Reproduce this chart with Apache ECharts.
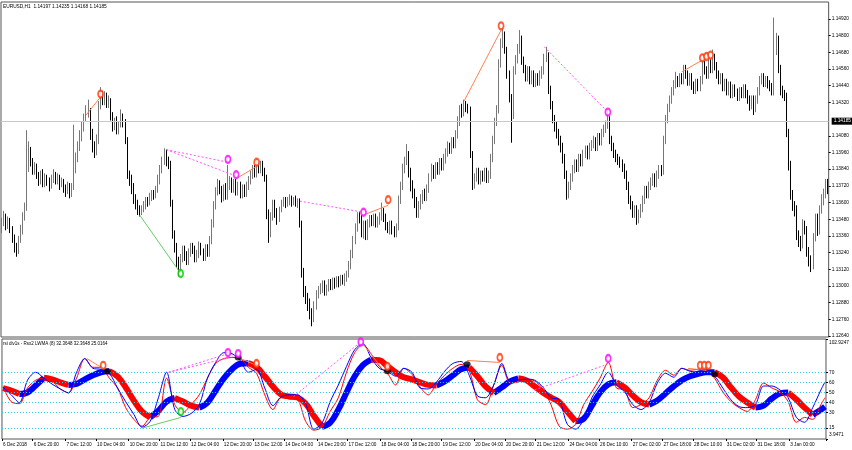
<!DOCTYPE html>
<html><head><meta charset="utf-8">
<script src="https://cdn.jsdelivr.net/npm/echarts@6/dist/echarts.min.js"></script>
<style>html,body{margin:0;padding:0;background:#fff}#c{width:852px;height:450px}</style>
</head><body><div id="c"></div>
<script>
const symbolTitle = 'EURUSD,H1  1.14197 1.14235 1.14168 1.14185';
const indicatorTitle = 'rsi div1s - Rsx2 LWMA (8) 32.3648 32.3648 25.0164';
const bidPrice = 1.14185;
const timeLabels = ['6 Dec 2018','6 Dec 20:00','7 Dec 12:00','10 Dec 04:00','10 Dec 20:00','11 Dec 12:00','12 Dec 04:00','12 Dec 20:00','13 Dec 12:00','14 Dec 04:00','14 Dec 20:00','17 Dec 12:00','18 Dec 04:00','18 Dec 20:00','19 Dec 12:00','20 Dec 04:00','20 Dec 20:00','21 Dec 12:00','24 Dec 04:00','26 Dec 10:00','27 Dec 02:00','27 Dec 18:00','28 Dec 10:00','31 Dec 02:00','31 Dec 18:00','3 Jan 00:00'];
const timeLabelBars = [0,15,31,46,62,77,92,108,123,138,154,169,185,200,215,231,246,261,277,292,308,323,338,354,369,385];
const priceTicks = [1.1264,1.1276,1.1288,1.1300,1.1312,1.1324,1.1336,1.1348,1.1360,1.1372,1.1384,1.1396,1.1408,1.1432,1.1444,1.1456,1.1468,1.1480,1.1492];
const indTicks = [3.9471,15,30,40,50,60,70,102.9247];
const levels = [70,60,50,40,30,15];

const closes = [1.1345,1.1350,1.1343,1.1347,1.1340,1.1334,1.1328,1.1326,1.1333,1.1340,
1.1350,1.1356,1.1385,1.1398,1.1390,1.1383,1.1386,1.1379,1.1376,1.1380,
1.1374,1.1378,1.1375,1.1372,1.1377,1.1380,1.1376,1.1378,1.1373,1.1375,
1.1370,1.1368,1.1372,1.1366,1.1371,1.1384,1.1392,1.1400,1.1408,1.1414,
1.1421,1.1425,1.1427,1.1410,1.1400,1.1396,1.1405,1.1430,1.1438,1.1434,
1.1436,1.1431,1.1434,1.1422,1.1415,1.1418,1.1412,1.1416,1.1421,1.1418,
1.1405,1.1380,1.1376,1.1370,1.1362,1.1358,1.1354,1.1353,1.1356,1.1358,
1.1361,1.1360,1.1364,1.1366,1.1365,1.1369,1.1376,1.1384,1.1390,1.1396,
1.1390,1.1388,1.1360,1.1337,1.1328,1.1318,1.1312,1.1320,1.1326,1.1322,
1.1318,1.1324,1.1328,1.1326,1.1320,1.1323,1.1329,1.1325,1.1321,1.1327,
1.1324,1.1333,1.1345,1.1358,1.1368,1.1373,1.1369,1.1364,1.1370,1.1366,
1.1372,1.1376,1.1370,1.1374,1.1368,1.1372,1.1366,1.1370,1.1367,1.1372,
1.1376,1.1380,1.1384,1.1381,1.1387,1.1384,1.1387,1.1382,1.1378,1.1352,
1.1338,1.1350,1.1358,1.1352,1.1348,1.1355,1.1360,1.1362,1.1359,1.1361,
1.1363,1.1360,1.1362,1.1359,1.1361,1.1345,1.1310,1.1297,1.1292,1.1288,
1.1280,1.1276,1.1286,1.1294,1.1297,1.1298,1.1300,1.1296,1.1299,1.1302,
1.1300,1.1303,1.1301,1.1304,1.1302,1.1305,1.1303,1.1306,1.1308,1.1315,
1.1323,1.1333,1.1342,1.1350,1.1348,1.1338,1.1344,1.1336,1.1345,1.1348,
1.1346,1.1349,1.1345,1.1347,1.1350,1.1352,1.1349,1.1343,1.1340,1.1344,
1.1340,1.1338,1.1342,1.1362,1.1372,1.1384,1.1390,1.1395,1.1382,1.1372,
1.1366,1.1360,1.1352,1.1358,1.1362,1.1366,1.1364,1.1370,1.1378,1.1384,
1.1380,1.1386,1.1383,1.1389,1.1386,1.1391,1.1396,1.1400,1.1398,1.1404,
1.1402,1.1409,1.1418,1.1427,1.1425,1.1430,1.1428,1.1427,1.1395,1.1374,
1.1378,1.1382,1.1376,1.1380,1.1378,1.1382,1.1377,1.1380,1.1392,1.1405,
1.1418,1.1427,1.1460,1.1474,1.1481,1.1470,1.1452,1.1435,1.1423,1.1455,
1.1463,1.1470,1.1478,1.1462,1.1456,1.1450,1.1455,1.1448,1.1452,1.1446,
1.1450,1.1447,1.1452,1.1455,1.1464,1.1466,1.1441,1.1430,1.1420,1.1415,
1.1410,1.1405,1.1400,1.1392,1.1380,1.1366,1.1372,1.1378,1.1384,1.1388,
1.1385,1.1392,1.1389,1.1395,1.1398,1.1394,1.1400,1.1402,1.1405,1.1400,
1.1407,1.1404,1.1410,1.1413,1.1416,1.1420,1.1405,1.1400,1.1395,1.1392,
1.1390,1.1388,1.1385,1.1380,1.1372,1.1362,1.1358,1.1352,1.1355,1.1348,
1.1352,1.1356,1.1362,1.1369,1.1366,1.1372,1.1375,1.1378,1.1374,1.1380,
1.1384,1.1382,1.1405,1.1420,1.1428,1.1434,1.1440,1.1445,1.1448,1.1446,
1.1450,1.1448,1.1456,1.1452,1.1447,1.1450,1.1444,1.1441,1.1446,1.1443,
1.1448,1.1459,1.1455,1.1452,1.1460,1.1456,1.1464,1.1458,1.1452,1.1448,
1.1450,1.1443,1.1446,1.1440,1.1444,1.1438,1.1442,1.1439,1.1436,1.1440,
1.1438,1.1442,1.1438,1.1434,1.1430,1.1434,1.1428,1.1434,1.1440,1.1448,
1.1450,1.1446,1.1448,1.1445,1.1443,1.1440,1.1470,1.1477,1.1456,1.1441,
1.1438,1.1436,1.1410,1.1387,1.1366,1.1358,1.1355,1.1337,1.1333,1.1330,
1.1344,1.1340,1.1325,1.1318,1.1315,1.1335,1.1349,1.1340,1.1355,1.1362,
1.1366,1.1373,1.1370];

const opens = [1.1342,1.1345,1.1350,1.1343,1.1347,1.1340,1.1334,1.1328,1.1326,1.1333,
1.1340,1.1350,1.1356,1.1385,1.1398,1.1390,1.1383,1.1386,1.1379,1.1376,
1.1380,1.1374,1.1378,1.1375,1.1372,1.1377,1.1380,1.1376,1.1378,1.1373,
1.1375,1.1370,1.1368,1.1372,1.1366,1.1371,1.1384,1.1392,1.1400,1.1408,
1.1414,1.1421,1.1425,1.1427,1.1410,1.1400,1.1396,1.1405,1.1430,1.1438,
1.1434,1.1436,1.1431,1.1434,1.1422,1.1415,1.1418,1.1412,1.1416,1.1421,
1.1418,1.1405,1.1380,1.1376,1.1370,1.1362,1.1358,1.1354,1.1353,1.1356,
1.1358,1.1361,1.1360,1.1364,1.1366,1.1365,1.1369,1.1376,1.1384,1.1390,
1.1396,1.1390,1.1388,1.1360,1.1337,1.1328,1.1318,1.1312,1.1320,1.1326,
1.1322,1.1318,1.1324,1.1328,1.1326,1.1320,1.1323,1.1329,1.1325,1.1321,
1.1327,1.1324,1.1333,1.1345,1.1358,1.1368,1.1373,1.1369,1.1364,1.1370,
1.1366,1.1372,1.1376,1.1370,1.1374,1.1368,1.1372,1.1366,1.1370,1.1367,
1.1372,1.1376,1.1380,1.1384,1.1381,1.1387,1.1384,1.1387,1.1382,1.1378,
1.1352,1.1338,1.1350,1.1358,1.1352,1.1348,1.1355,1.1360,1.1362,1.1359,
1.1361,1.1363,1.1360,1.1362,1.1359,1.1361,1.1345,1.1310,1.1297,1.1292,
1.1288,1.1280,1.1276,1.1286,1.1294,1.1297,1.1298,1.1300,1.1296,1.1299,
1.1302,1.1300,1.1303,1.1301,1.1304,1.1302,1.1305,1.1303,1.1306,1.1308,
1.1315,1.1323,1.1333,1.1342,1.1350,1.1348,1.1338,1.1344,1.1336,1.1345,
1.1348,1.1346,1.1349,1.1345,1.1347,1.1350,1.1352,1.1349,1.1343,1.1340,
1.1344,1.1340,1.1338,1.1342,1.1362,1.1372,1.1384,1.1390,1.1395,1.1382,
1.1372,1.1366,1.1360,1.1352,1.1358,1.1362,1.1366,1.1364,1.1370,1.1378,
1.1384,1.1380,1.1386,1.1383,1.1389,1.1386,1.1391,1.1396,1.1400,1.1398,
1.1404,1.1402,1.1409,1.1418,1.1427,1.1425,1.1430,1.1428,1.1427,1.1395,
1.1374,1.1378,1.1382,1.1376,1.1380,1.1378,1.1382,1.1377,1.1380,1.1392,
1.1405,1.1418,1.1427,1.1460,1.1474,1.1481,1.1470,1.1452,1.1435,1.1423,
1.1455,1.1463,1.1470,1.1478,1.1462,1.1456,1.1450,1.1455,1.1448,1.1452,
1.1446,1.1450,1.1447,1.1452,1.1455,1.1464,1.1466,1.1441,1.1430,1.1420,
1.1415,1.1410,1.1405,1.1400,1.1392,1.1380,1.1366,1.1372,1.1378,1.1384,
1.1388,1.1385,1.1392,1.1389,1.1395,1.1398,1.1394,1.1400,1.1402,1.1405,
1.1400,1.1407,1.1404,1.1410,1.1413,1.1416,1.1420,1.1405,1.1400,1.1395,
1.1392,1.1390,1.1388,1.1385,1.1380,1.1372,1.1362,1.1358,1.1352,1.1355,
1.1348,1.1352,1.1356,1.1362,1.1369,1.1366,1.1372,1.1375,1.1378,1.1374,
1.1380,1.1384,1.1382,1.1405,1.1420,1.1428,1.1434,1.1440,1.1445,1.1448,
1.1446,1.1450,1.1448,1.1456,1.1452,1.1447,1.1450,1.1444,1.1441,1.1446,
1.1443,1.1448,1.1459,1.1455,1.1452,1.1460,1.1456,1.1464,1.1458,1.1452,
1.1448,1.1450,1.1443,1.1446,1.1440,1.1444,1.1438,1.1442,1.1439,1.1436,
1.1440,1.1438,1.1442,1.1438,1.1434,1.1430,1.1434,1.1428,1.1434,1.1440,
1.1448,1.1450,1.1446,1.1448,1.1445,1.1443,1.1440,1.1470,1.1477,1.1456,
1.1441,1.1438,1.1436,1.1410,1.1387,1.1366,1.1358,1.1355,1.1337,1.1333,
1.1330,1.1344,1.1340,1.1325,1.1318,1.1315,1.1335,1.1349,1.1340,1.1355,
1.1362,1.1366,1.1373];

const highs = [1.1349,1.1354,1.1352,1.1350,1.1349,1.1343,1.1337,1.1331,1.1336,1.1344,
1.1353,1.1360,1.1412,1.1404,1.1400,1.1392,1.1389,1.1388,1.1382,1.1383,
1.1384,1.1381,1.1380,1.1378,1.1380,1.1384,1.1382,1.1381,1.1380,1.1378,
1.1377,1.1373,1.1375,1.1374,1.1374,1.1416,1.1396,1.1404,1.1412,1.1418,
1.1424,1.1430,1.1434,1.1428,1.1413,1.1404,1.1409,1.1433,1.1443,1.1440,
1.1440,1.1439,1.1437,1.1435,1.1425,1.1421,1.1422,1.1418,1.1427,1.1424,
1.1420,1.1407,1.1383,1.1380,1.1374,1.1366,1.1362,1.1358,1.1358,1.1361,
1.1364,1.1364,1.1367,1.1369,1.1369,1.1372,1.1380,1.1387,1.1393,1.1399,
1.1398,1.1393,1.1390,1.1362,1.1340,1.1331,1.1321,1.1323,1.1329,1.1329,
1.1325,1.1327,1.1331,1.1331,1.1329,1.1326,1.1332,1.1331,1.1327,1.1330,
1.1330,1.1336,1.1348,1.1361,1.1371,1.1377,1.1376,1.1372,1.1373,1.1374,
1.1387,1.1379,1.1378,1.1377,1.1377,1.1375,1.1375,1.1373,1.1373,1.1375,
1.1379,1.1383,1.1387,1.1387,1.1391,1.1389,1.1390,1.1390,1.1385,1.1380,
1.1355,1.1353,1.1362,1.1362,1.1356,1.1357,1.1362,1.1364,1.1364,1.1364,
1.1366,1.1365,1.1364,1.1365,1.1363,1.1363,1.1347,1.1313,1.1300,1.1295,
1.1291,1.1284,1.1289,1.1297,1.1300,1.1302,1.1304,1.1304,1.1301,1.1305,
1.1305,1.1306,1.1306,1.1307,1.1307,1.1308,1.1308,1.1309,1.1311,1.1318,
1.1326,1.1336,1.1345,1.1353,1.1353,1.1351,1.1347,1.1347,1.1348,1.1351,
1.1351,1.1352,1.1352,1.1350,1.1353,1.1360,1.1356,1.1352,1.1346,1.1347,
1.1347,1.1343,1.1345,1.1365,1.1375,1.1388,1.1393,1.1402,1.1397,1.1385,
1.1376,1.1370,1.1364,1.1361,1.1366,1.1369,1.1370,1.1373,1.1381,1.1388,
1.1387,1.1389,1.1389,1.1392,1.1392,1.1395,1.1399,1.1404,1.1403,1.1407,
1.1407,1.1412,1.1422,1.1430,1.1431,1.1434,1.1433,1.1431,1.1429,1.1397,
1.1381,1.1385,1.1385,1.1383,1.1383,1.1385,1.1385,1.1383,1.1395,1.1408,
1.1421,1.1430,1.1463,1.1478,1.1486,1.1483,1.1472,1.1455,1.1438,1.1458,
1.1466,1.1474,1.1484,1.1480,1.1465,1.1459,1.1458,1.1458,1.1455,1.1455,
1.1453,1.1453,1.1455,1.1458,1.1467,1.1472,1.1468,1.1444,1.1433,1.1423,
1.1418,1.1413,1.1408,1.1403,1.1395,1.1383,1.1375,1.1381,1.1387,1.1391,
1.1391,1.1395,1.1395,1.1398,1.1401,1.1401,1.1403,1.1405,1.1408,1.1407,
1.1410,1.1410,1.1413,1.1416,1.1419,1.1427,1.1422,1.1408,1.1403,1.1398,
1.1395,1.1393,1.1391,1.1388,1.1383,1.1375,1.1365,1.1361,1.1358,1.1358,
1.1355,1.1359,1.1365,1.1372,1.1372,1.1375,1.1378,1.1381,1.1381,1.1383,
1.1387,1.1387,1.1408,1.1423,1.1431,1.1437,1.1443,1.1448,1.1454,1.1451,
1.1453,1.1453,1.1459,1.1459,1.1455,1.1453,1.1453,1.1447,1.1449,1.1449,
1.1451,1.1462,1.1462,1.1458,1.1463,1.1463,1.1470,1.1467,1.1461,1.1455,
1.1453,1.1453,1.1449,1.1449,1.1447,1.1447,1.1445,1.1445,1.1442,1.1443,
1.1443,1.1445,1.1445,1.1441,1.1437,1.1437,1.1437,1.1437,1.1443,1.1451,
1.1453,1.1453,1.1451,1.1451,1.1448,1.1446,1.1493,1.1482,1.1480,1.1459,
1.1444,1.1441,1.1439,1.1413,1.1390,1.1369,1.1361,1.1358,1.1340,1.1336,
1.1348,1.1347,1.1343,1.1328,1.1322,1.1338,1.1352,1.1352,1.1358,1.1366,
1.1370,1.1377,1.1377];

const lows = [1.1338,1.1343,1.1340,1.1341,1.1338,1.1331,1.1324,1.1321,1.1323,1.1331,
1.1337,1.1347,1.1354,1.1382,1.1386,1.1380,1.1380,1.1377,1.1372,1.1373,
1.1371,1.1371,1.1372,1.1368,1.1370,1.1374,1.1373,1.1373,1.1369,1.1371,
1.1367,1.1364,1.1366,1.1363,1.1364,1.1369,1.1381,1.1389,1.1397,1.1404,
1.1411,1.1418,1.1421,1.1405,1.1396,1.1392,1.1394,1.1402,1.1427,1.1430,
1.1430,1.1428,1.1428,1.1419,1.1411,1.1412,1.1409,1.1409,1.1414,1.1414,
1.1402,1.1377,1.1372,1.1366,1.1359,1.1355,1.1351,1.1350,1.1351,1.1353,
1.1355,1.1357,1.1358,1.1361,1.1362,1.1363,1.1367,1.1373,1.1381,1.1387,
1.1386,1.1384,1.1357,1.1334,1.1324,1.1313,1.1307,1.1309,1.1317,1.1318,
1.1315,1.1315,1.1321,1.1323,1.1317,1.1317,1.1320,1.1322,1.1318,1.1318,
1.1321,1.1321,1.1330,1.1342,1.1355,1.1365,1.1366,1.1360,1.1361,1.1362,
1.1362,1.1369,1.1367,1.1367,1.1365,1.1365,1.1363,1.1363,1.1364,1.1364,
1.1369,1.1373,1.1377,1.1378,1.1378,1.1381,1.1381,1.1379,1.1375,1.1348,
1.1331,1.1335,1.1347,1.1349,1.1344,1.1346,1.1353,1.1357,1.1356,1.1357,
1.1358,1.1357,1.1358,1.1357,1.1356,1.1342,1.1306,1.1292,1.1287,1.1282,
1.1276,1.1271,1.1274,1.1283,1.1291,1.1294,1.1295,1.1293,1.1293,1.1296,
1.1297,1.1297,1.1298,1.1299,1.1299,1.1300,1.1301,1.1300,1.1303,1.1306,
1.1312,1.1320,1.1330,1.1339,1.1345,1.1335,1.1334,1.1333,1.1333,1.1342,
1.1343,1.1343,1.1342,1.1342,1.1344,1.1347,1.1346,1.1340,1.1338,1.1337,
1.1337,1.1335,1.1335,1.1340,1.1359,1.1369,1.1381,1.1387,1.1378,1.1368,
1.1363,1.1356,1.1349,1.1349,1.1355,1.1359,1.1361,1.1361,1.1367,1.1375,
1.1377,1.1377,1.1380,1.1380,1.1383,1.1383,1.1388,1.1393,1.1395,1.1395,
1.1399,1.1399,1.1406,1.1415,1.1421,1.1422,1.1425,1.1424,1.1392,1.1369,
1.1370,1.1375,1.1373,1.1373,1.1375,1.1375,1.1374,1.1374,1.1377,1.1389,
1.1402,1.1415,1.1424,1.1457,1.1471,1.1467,1.1449,1.1432,1.1403,1.1420,
1.1452,1.1460,1.1467,1.1459,1.1453,1.1447,1.1447,1.1445,1.1445,1.1443,
1.1443,1.1444,1.1444,1.1449,1.1452,1.1461,1.1438,1.1427,1.1417,1.1411,
1.1406,1.1401,1.1396,1.1388,1.1377,1.1362,1.1363,1.1369,1.1375,1.1381,
1.1382,1.1382,1.1386,1.1386,1.1392,1.1391,1.1391,1.1397,1.1399,1.1397,
1.1397,1.1401,1.1401,1.1407,1.1410,1.1413,1.1402,1.1397,1.1392,1.1389,
1.1387,1.1385,1.1382,1.1377,1.1369,1.1359,1.1355,1.1349,1.1349,1.1344,
1.1345,1.1349,1.1353,1.1359,1.1363,1.1363,1.1369,1.1372,1.1371,1.1371,
1.1377,1.1379,1.1380,1.1402,1.1417,1.1425,1.1431,1.1437,1.1442,1.1443,
1.1443,1.1445,1.1445,1.1449,1.1444,1.1444,1.1441,1.1438,1.1438,1.1440,
1.1440,1.1445,1.1452,1.1449,1.1449,1.1453,1.1453,1.1455,1.1449,1.1445,
1.1445,1.1440,1.1440,1.1437,1.1437,1.1435,1.1435,1.1436,1.1433,1.1433,
1.1435,1.1435,1.1435,1.1431,1.1426,1.1427,1.1423,1.1425,1.1431,1.1437,
1.1445,1.1443,1.1443,1.1442,1.1440,1.1437,1.1437,1.1466,1.1453,1.1437,
1.1435,1.1433,1.1407,1.1383,1.1362,1.1354,1.1350,1.1333,1.1328,1.1325,
1.1327,1.1337,1.1321,1.1314,1.1310,1.1312,1.1332,1.1336,1.1337,1.1352,
1.1358,1.1363,1.1366];

// indicator values sampled every 4 bars (last sample = last bar)
const rsxBlue = [55.4,47.7,39.9,62.2,70,64.2,58.3,53.5,49.6,70,
83.6,73.9,72.9,69,54.5,40.9,28.3,15.6,21.5,44.8,
70,33.1,26.3,29.2,38,64.2,79.7,89.4,88.4,81.7,
70,72.9,54.5,37,45.7,47.7,47.7,38.9,13.7,19.5,
40.9,57.4,75.8,92.3,98.2,84.6,73.9,71,66.1,73.9,
70,54.5,53.5,60.3,71,78.7,80.7,67.1,46.7,44.8,
57.4,78.7,61.3,62.2,63.2,62.2,55.4,44.8,42.8,18.5,
13.7,23.4,44.8,57.4,70,57.4,50.6,38,33.1,39.9,
59.3,69,65.1,73.9,71,70,70,66.1,54.5,42.8,
36,35,38,56.4,56.4,52.5,44.8,25.3,20.5,35,
52.5,60.3];
const rsiRed = [55.4,40.9,38.9,54.5,62.2,64.2,61.3,53.5,49.6,64.2,
83.6,74.9,74.9,64.2,54.5,35,23.4,16.6,25.3,26.3,
64.2,38,30.2,38,47.7,64.2,78.7,83.6,84.6,83.6,
74.9,69,47.7,33.1,44.8,43.8,42.8,21.5,12.7,15.6,
31.2,44.8,70,89.4,97.2,88.4,75.8,69,57.4,73.9,
68,55.4,47.7,58.3,67.1,73.9,77.8,72,42.8,38,
57.4,76.8,59.3,60.3,63.2,61.3,53.5,38,16.6,13.7,
18.5,38,50.6,64.2,79.7,54.5,52.5,35,38,44.8,
62.2,72,67.1,73.9,72,72.9,72,64.2,50.6,40.9,
35,31.2,42.8,59.3,54.5,50.6,40.9,20.5,25.3,23.4,
38,44.8];
const lwma = [54.3,52,48.5,50,57,64.5,63,60,57.5,58.5,
63,67,70,71,66,55,42,31,25.5,32,
41,44.5,41,37,35,40,52,64,73,78.5,
79,75,66,56,48,46,45,39,27,16,
20,33,50,66,77,82.5,82,76,70,65,
63,60,57.5,57,61,67,73,75,66,56,
49.5,55,61,64,62,56,50,45,40.5,31,
21.5,24,37,50,58,60,55,47,40.5,38,
42,49,56,62,66,68.5,70,70,65,55,
46,40,35,37,44,49,50,43,35,28,
33,36];

// divergence marks: [bar, price]
const mainOrangeLines = [[[41,1.1423],[48,1.1436]],[[115,1.1378],[124,1.1386]],[[176,1.1351],[188,1.1358]],[[225,1.1433],[243,1.1484]],[[331,1.1454],[344,1.1465]]];
const mainGreenLines = [[[67,1.1351],[87,1.1309]]];
const mainPinkLines = [[[80,1.1398],[110,1.1389]],[[80,1.1398],[114,1.1379]],[[145,1.1361],[176,1.1353]],[[264,1.1472],[295,1.1425]]];
const mainOrangeMarks = [[48,1.1438],[124,1.1389],[188,1.1362],[243,1.1487],[341,1.1464],[343,1.1465],[345,1.1466]];
const mainPinkMarks = [[110,1.1391],[114,1.1380],[176,1.1353],[295,1.1425]];
const mainGreenMarks = [[87,1.1309]];
// indicator marks: [bar, value]
const indOrangeLines = [[[41,83.6],[48,74.9]],[[115,84.6],[124,76.8]],[[176,98],[185,74.9]],[[227,81.7],[243,79.7]],[[335,73.9],[344,71.9]]];
const indGreenLines = [[[68,14.7],[87,25.3]]];
const indPinkLines = [[[81,70],[110,88.4]],[[81,70],[115,86.5]],[[142,45.7],[175,100]],[[260,52.5],[294,76.8]]];
const indOrangeMarks = [[49,76.8],[124,78.7],[188,75.8],[243,84.6],[341,76.8],[343,76.8],[345,76.8]];
const indPinkMarks = [[110,89.4],[115,88.4],[175,100],[296,83.6]];
const indGreenMarks = [[87,31]];
const indBlackDots = [[51,71],[115,84.6],[188,71],[227,78],[348,68]];

const FONT = '"Liberation Sans", "DejaVu Sans", sans-serif';
const n = closes.length;
const cats = closes.map((_, i) => String(i));
const candleData = closes.map((c, i) => [opens[i], c, lows[i], highs[i]]);
const sx = k => Math.min(k * 4, n - 1);
const pairs = arr => arr.map((v, k) => [sx(k), v]);
const upData = lwma.map((v, k) => [sx(k), '-']);
const downData = lwma.map((v, k) => [sx(k), '-']);
for (let k = 0; k < lwma.length - 1; k++) {
  const t = lwma[k + 1] >= lwma[k] ? upData : downData;
  t[k][1] = lwma[k]; t[k + 1][1] = lwma[k + 1];
}
const ORANGE = '#ff7f50', PINK = '#ff55ff', GREEN = '#66cc66';
function lineSeries(list, color, type, ax) {
  return list.map(pts => ({
    type: 'line', xAxisIndex: ax, yAxisIndex: ax, data: pts, symbol: 'none', silent: true,
    lineStyle: { color, width: 1, type }, z: 5
  }));
}
function markSeries(list, color, ax) {
  return {
    type: 'scatter', xAxisIndex: ax, yAxisIndex: ax, data: list, symbol: 'emptyCircle',
    symbolSize: [5, 7], silent: true, clip: false,
    itemStyle: { color, borderColor: color, borderWidth: 1.6 }, z: 8
  };
}
const isLbl = i => timeLabelBars.indexOf(i) >= 0;

const option = {
  animation: false,
  backgroundColor: '#fff',
  textStyle: { fontFamily: FONT },
  title: [
    { text: symbolTitle, left: 3, top: 4, padding: 0, textStyle: { fontSize: 4.8, fontWeight: 'normal', color: '#000', fontFamily: FONT } },
    { text: indicatorTitle, left: 3, top: 341, padding: 0, textStyle: { fontSize: 4.5, fontWeight: 'normal', color: '#000', fontFamily: FONT } }
  ],
  grid: [
    { left: 1, right: 23, top: 2, height: 335, show: true, borderColor: '#555', borderWidth: 1, backgroundColor: 'transparent' },
    { left: 1, right: 23, top: 339, height: 100, show: true, borderColor: '#555', borderWidth: 1, backgroundColor: 'transparent' }
  ],
  xAxis: [
    { type: 'category', gridIndex: 0, data: cats, boundaryGap: true, axisLine: { show: false }, axisTick: { show: false }, axisLabel: { show: false }, splitLine: { show: false } },
    { type: 'category', gridIndex: 1, data: cats, boundaryGap: true, axisLine: { show: false },
      axisTick: { show: true, interval: i => isLbl(i), length: 2, lineStyle: { color: '#000' } },
      axisLabel: { interval: i => isLbl(i), formatter: (v, i) => timeLabels[timeLabelBars.indexOf(Number(v))], align: 'left', fontSize: 4.7, color: '#000', margin: 3, fontFamily: FONT },
      splitLine: { show: false } }
  ],
  yAxis: [
    { type: 'value', gridIndex: 0, position: 'right', min: 1.12633, max: 1.15042,
      splitLine: { show: false }, axisLine: { show: false },
      axisTick: { show: true, length: 2, customValues: priceTicks, lineStyle: { color: '#000' } },
      axisLabel: { customValues: priceTicks, formatter: v => v.toFixed(5), fontSize: 4.8, color: '#000', margin: 3, fontFamily: FONT } },
    { type: 'value', gridIndex: 1, position: 'right', min: 3.9471, max: 102.9247,
      splitLine: { show: false }, axisLine: { show: false },
      axisTick: { show: true, length: 2, customValues: indTicks, lineStyle: { color: '#000' } },
      axisLabel: { customValues: indTicks, fontSize: 4.8, color: '#000', margin: 3, fontFamily: FONT,
        formatter: v => v > 100 ? '{t|' + v.toFixed(4) + '}' : (v < 5 ? '{b|' + v.toFixed(4) + '}' : String(v)),
        rich: { t: { fontSize: 4.8, padding: [8, 0, 0, 0], fontFamily: FONT }, b: { fontSize: 4.8, padding: [0, 0, 8, 0], fontFamily: FONT } } } }
  ],
  series: [
    { type: 'line', xAxisIndex: 0, yAxisIndex: 0, data: [[0, bidPrice], [n - 1, bidPrice]], symbol: 'none', silent: true,
      lineStyle: { opacity: 0 }, z: 1,
      markLine: { silent: true, symbol: 'none', animation: false, precision: 5,
        data: [{ yAxis: bidPrice }],
        lineStyle: { color: '#c8c8c8', width: 1, type: 'solid' },
        label: { show: true, position: 'end', distance: 3, formatter: bidPrice.toFixed(5), color: '#fff', backgroundColor: '#000', padding: [1, 2], fontSize: 4.8, fontFamily: FONT } } },
    { type: 'candlestick', xAxisIndex: 0, yAxisIndex: 0, data: candleData, barWidth: 1, z: 3,
      itemStyle: { color: '#9a9a9a', color0: '#000000', borderColor: '#777777', borderColor0: '#000000', borderWidth: 1 } },
    ...lineSeries(mainOrangeLines, ORANGE, 'solid', 0),
    ...lineSeries(mainGreenLines, GREEN, 'solid', 0),
    ...lineSeries(mainPinkLines, PINK, [2, 2], 0),
    markSeries(mainOrangeMarks, '#ff3300', 0),
    markSeries(mainPinkMarks, '#ff00ff', 0),
    markSeries(mainGreenMarks, '#00cc00', 0),
    { type: 'line', xAxisIndex: 1, yAxisIndex: 1, data: upData, symbol: 'none', smooth: 0.4, silent: true,
      lineStyle: { color: '#0000ff', width: 6 }, z: 2,
      markLine: { silent: true, symbol: 'none', animation: false, precision: 4, label: { show: false },
        lineStyle: { color: '#33c8e8', width: 1, type: [1, 2] }, data: levels.map(v => ({ yAxis: v })) } },
    { type: 'line', xAxisIndex: 1, yAxisIndex: 1, data: downData, symbol: 'none', smooth: 0.4, silent: true,
      lineStyle: { color: '#ff0000', width: 6 }, z: 2 },
    { type: 'line', xAxisIndex: 1, yAxisIndex: 1, data: pairs(rsiRed), symbol: 'none', smooth: 0.3, silent: true,
      lineStyle: { color: '#ff0000', width: 1 }, z: 3 },
    { type: 'line', xAxisIndex: 1, yAxisIndex: 1, data: pairs(rsxBlue), symbol: 'none', smooth: 0.3, silent: true,
      lineStyle: { color: '#0000ff', width: 1 }, z: 3 },
    ...lineSeries(indOrangeLines, ORANGE, 'solid', 1),
    ...lineSeries(indGreenLines, GREEN, 'solid', 1),
    ...lineSeries(indPinkLines, PINK, [2, 2], 1),
    { type: 'scatter', xAxisIndex: 1, yAxisIndex: 1, data: indBlackDots, symbol: 'circle', symbolSize: [7, 6], silent: true,
      itemStyle: { color: '#000' }, z: 7 },
    markSeries(indOrangeMarks, '#ff3300', 1),
    markSeries(indPinkMarks, '#ff00ff', 1),
    markSeries(indGreenMarks, '#00cc00', 1)
  ]
};
const chart = echarts.init(document.getElementById('c'));
chart.setOption(option);
</script>
</body></html>
